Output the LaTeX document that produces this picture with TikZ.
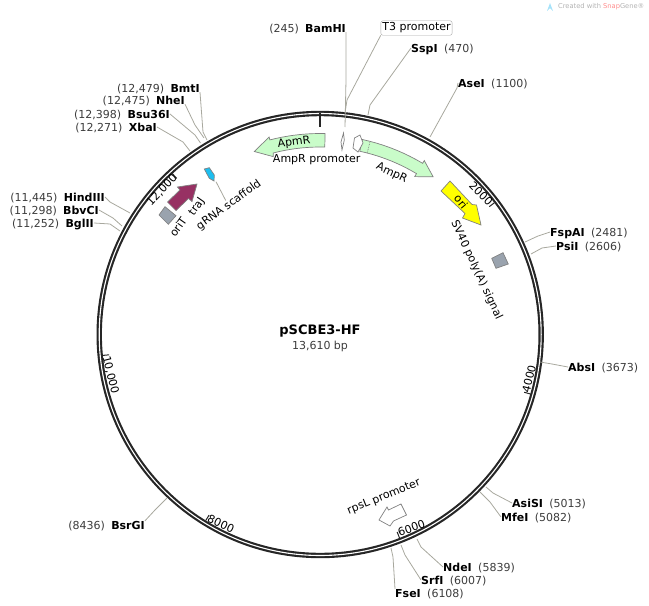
\documentclass[tikz,border=0pt]{standalone}
\usepackage{fontspec}
\setmainfont{DejaVu Sans}
\usetikzlibrary{positioning,calc}
\definecolor{ringcol}{HTML}{262626}
\definecolor{cutcol}{HTML}{A8A89E}
\definecolor{numcol}{HTML}{3C3C3C}
\definecolor{ampgreen}{HTML}{C9FCC9}
\definecolor{oricol}{HTML}{FFFF00}
\definecolor{trajcol}{HTML}{973163}
\definecolor{grnacol}{HTML}{1CBEF0}
\definecolor{sigcol}{HTML}{9AA3AE}
\tikzset{
  txt/.style={inner sep=0pt,font=\fontsize{11}{13}\selectfont},
  enzyme/.style={txt,font=\fontsize{11}{13}\selectfont\bfseries,text height=8pt,text depth=0pt},
  sitepos/.style={txt,text=numcol,text height=8pt,text depth=0pt},
  cut/.style={draw=cutcol,line width=0.8pt},
  feat/.style={draw=black!50,line width=0.7pt,line join=miter},
}
\begin{document}
\begin{tikzpicture}[x=1pt,y=-1pt]
\useasboundingbox (0,0) rectangle (649,606);
% backbone
\coordinate (hub) at (320.2,334.5);
\draw[ringcol,line width=5.4pt] (hub) circle (221);
\draw[white,line width=1.1pt] (hub) circle (221);
\draw[ringcol,line width=2pt] (320,113) -- (320,127);
% ticks and scale numbers
\foreach \pp/\lab/\xx/\yy/\rot in {2000/2000/481/194/-45,4000/4000/529/379/76,6000/6000/411.5/528/20,
  8000/8000/221/524/-25,10000/{10,000}/110.5/375/-76,12000/{12,000}/162/190/47}
  {\coordinate (tick\pp a) at ($(hub)+({\pp/13610*360-90}:218.5)$);
   \coordinate (tick\pp b) at ($(hub)+({\pp/13610*360-90}:212)$);
   \draw[ringcol,line width=1pt] (tick\pp a) -- (tick\pp b);
   \node[txt,rotate=\rot] (scale\pp) at (\xx,\yy) {\lab};}
% enzymes, number on the left of the name
\foreach \nm/\xx/\yy/\pos in {BamHI/346/28/245,BmtI/200/88/{12,479},NheI/185/100/{12,475},
  Bsu36I/170/114/{12,398},XbaI/157/127/{12,271},HindIII/105/197/{11,445},BbvCI/99/210/{11,298},
  BglII/94/223/{11,252},BsrGI/145/525/8436}
  {\node[enzyme,anchor=east] (\nm) at (\xx,\yy) {\nm};
   \node[sitepos,left=6pt of \nm] (\nm-pos) {(\pos)};}
% enzymes, number on the right of the name
\foreach \nm/\xx/\yy/\pos in {SspI/411/48/470,AseI/458/83/1100,FspAI/550/232/2481,PsiI/556/246/2606,
  AbsI/568/367/3673,AsiSI/512/503/5013,MfeI/501/517/5082,NdeI/443/567/5839,SrfI/421/580/6007,FseI/395/593/6108}
  {\node[enzyme,anchor=west] (\nm) at (\xx,\yy) {\nm};
   \node[sitepos,right=6pt of \nm] (\nm-pos) {(\pos)};}
% cut lines
\foreach \nm/\from/\bx/\by/\ex/\ey in {BamHI/south east/346/80/345/127,SspI/west/370/105/368/115,
  AseI/west/457/88/430/137,BmtI/south east/203/132/207/140,NheI/south east/195/125/204/138,
  Bsu36I/east/195/135/200.5/143,XbaI/east/183/142/190/151,HindIII/east/110/202/130/213,
  BbvCI/east/113/218/122/226,BglII/east/110/224/120/231,FspAI/west/538/236/525/242,
  PsiI/west/542/248/531/254,AbsI/west/552/364/540/362,AsiSI/west/493/493/486/487,
  MfeI/west/490/502/480/492,NdeI/west/421/547/417/539,SrfI/west/405/555/401/545,
  FseI/north west/393/557/391/548,BsrGI/north east/155/510/167/498}
  {\coordinate (\nm-bend) at (\bx,\by);
   \coordinate (\nm-site) at (\ex,\ey);
   \draw[cut] (\nm.\from) -- (\nm-bend) -- (\nm-site);}
% T3 promoter
\node[txt,draw=black!35,rounded corners=2pt,inner xsep=1.5pt,inner ysep=2pt] (T3) at (416.5,28) {T3 promoter};
\coordinate (T3-bend) at (347,100);
\coordinate (T3-site) at (345,113);
\draw[cut] (T3.south west) -- (T3-bend) -- (T3-site);
\draw[feat,fill=white] (343.5,133) -- (344.3,140) -- (342,150) -- (341,142) -- cycle;
% arc arrows
\begin{scope}[shift={(320.2,334.5)}]
\draw[feat,fill=ampgreen] plot[domain=-88.6:-104.5,samples=10] (\x:201) -- (-104.5:204) -- (-109.8:194.5)
  -- (-104.8:184) -- (-104.5:187.5) -- plot[domain=-104.5:-88.6,samples=10] (\x:187.5) -- cycle;
\draw[feat,fill=ampgreen] plot[domain=-77.8:-59.1,samples=10] (\x:199.5) -- (-59.1:202.7) -- (-54.4:194)
  -- (-59.1:184) -- (-59.1:187.5) -- plot[domain=-59.1:-77.8,samples=10] (\x:187.5) -- cycle;
\draw[feat,densely dotted] (-75.5:187.5) -- (-75.5:199.5);
\end{scope}
\node[txt,rotate=7] (apmr) at (294,142.7) {ApmR};
\node[txt] (amppromoter) at (316.7,160) {AmpR promoter};
\node[txt,rotate=-25] (ampr) at (391.7,173.3) {AmpR};
% straight features
\draw[feat,fill=white] (354.5,138) -- (360,135) -- (363,143) -- (358,152) -- (353,148) -- cycle;
\draw[feat,fill=oricol] (441,191) -- (450,181) -- (472,204.5) -- (476.5,205) -- (481,225) -- (462.5,218) -- (465,213.5) -- cycle;
\node[txt,rotate=-50] (ori) at (461,201.7) {ori};
\node[txt,rotate=-65] (sv40) at (476.5,270) {SV40 poly(A) signal};
\draw[feat,fill=sigcol] (491.7,258.3) -- (503,252.7) -- (508.3,264) -- (496,268.3) -- cycle;
\draw[feat,fill=white] (379,520) -- (387,507) -- (388.5,510) -- (401,504) -- (406.5,515) -- (393.5,521) -- (390,526) -- cycle;
\node[txt,rotate=22] (rpsl) at (384,497) {rpsL promoter};
\draw[feat,fill=trajcol] (167.5,202) -- (180,190) -- (177.5,187) -- (197,184) -- (192,201.5) -- (188.5,198.5) -- (176,210.5) -- cycle;
\draw[feat,fill=sigcol] (165,206.7) -- (176,215.7) -- (168.3,224.3) -- (159,215) -- cycle;
\node[txt,rotate=55] (traJ) at (197,207) {traJ};
\node[txt,rotate=55] (oriT) at (178,227) {oriT};
\draw[feat,fill=grnacol] (204.3,169) -- (209.3,167.7) -- (214.3,175) -- (214,181) -- (209.3,178.3) -- cycle;
\node[txt,rotate=36] (grna) at (229,205) {gRNA scaffold};
\coordinate (grna-top) at (216,181.7);
\draw[cut] (grna-top) -- (grna.north);
% name in the middle
\node[txt,font=\fontsize{13}{15}\selectfont\bfseries] (plasmid) at (320,331) {pSCBE3-HF};
\node[sitepos,below=4pt of plasmid] (length) {13,610 bp};
% watermark
\node[txt,font=\fontsize{6.7}{8}\selectfont,text=black!30,anchor=west] (mark) at (558,7)
  {Created with \textcolor{red!45}{Snap}Gene®};
\fill[cyan!35] (547,11) -- (550,3) -- (553,11) -- (550,8) -- cycle;
\end{tikzpicture}
\end{document}
